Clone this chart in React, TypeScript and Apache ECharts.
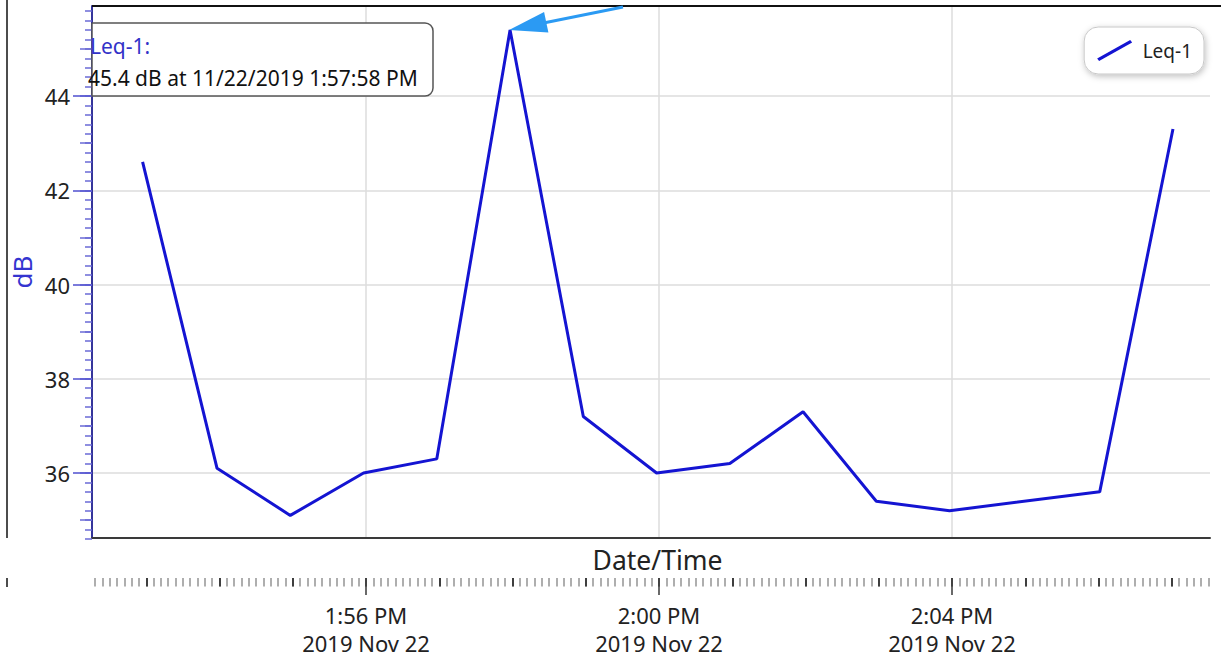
import React, { useEffect, useRef } from 'react';
import * as echarts from 'echarts';

// ---- data ----
const TIMES = [
  '13:52:57', '13:53:58', '13:54:58', '13:55:58', '13:56:58', '13:57:58', '13:58:58',
  '13:59:58', '14:00:58', '14:01:58', '14:02:58', '14:03:58', '14:06:01', '14:07:01',
];
const LEQ = [42.6, 36.1, 35.1, 36.0, 36.3, 45.4, 37.2, 36.0, 36.2, 37.3, 35.4, 35.2, 35.6, 43.3];
const SERIES_NAME = 'Leq-1';
const DATE_LABEL = '2019 Nov 22';
const Y_LABEL_TICKS = [36, 38, 40, 42, 44];
const X_LABEL_TICKS = ['13:56', '14:00', '14:04'];
const TOOLTIP_TITLE = 'Leq-1:';
const TOOLTIP_TEXT = '45.4 dB at 11/22/2019 1:57:58 PM';

const FONT = '"Noto Sans", "Open Sans", sans-serif';

const toMin = (s: string) => {
  const p = s.split(':').map(Number);
  return p[0] * 60 + p[1] + (p[2] || 0) / 60;
};

// pixel scale (layout only)
const PLOT = { left: 92, right: 1210, top: 6, bottom: 538 };
const X_PX0 = 366; const X_V0 = toMin(X_LABEL_TICKS[0]); const X_PPU = 73.25;
const Y_PX0 = 473; const Y_V0 = Y_LABEL_TICKS[0]; const Y_PPU = 47.125;
const xPx = (v: number) => X_PX0 + (v - X_V0) * X_PPU;
const xVal = (px: number) => X_V0 + (px - X_PX0) / X_PPU;
const yPx = (v: number) => Y_PX0 - (v - Y_V0) * Y_PPU;
const yVal = (px: number) => Y_V0 + (Y_PX0 - px) / Y_PPU;

const fmtTime = (v: number) => {
  const tot = Math.round(v);
  let h = Math.floor(tot / 60);
  const m = tot % 60;
  const ap = h >= 12 ? 'PM' : 'AM';
  h = h % 12; if (h === 0) h = 12;
  return `${h}:${m < 10 ? '0' + m : m} ${ap}`;
};

const hiddenAxis = (gi: number) => ({ type: 'value', gridIndex: gi, show: false, min: 0, max: 1 });

export default function App() {
  const ref = useRef<HTMLDivElement>(null);
  useEffect(() => {
    if (!ref.current) return;
    const chart = echarts.init(ref.current, undefined, { renderer: 'svg' });

    const yMajMin = Y_LABEL_TICKS[0];
    const yMajMax = Y_LABEL_TICKS[Y_LABEL_TICKS.length - 1];
    const xMajMin = toMin(X_LABEL_TICKS[0]);
    const xMajMax = toMin(X_LABEL_TICKS[X_LABEL_TICKS.length - 1]);
    const rulerTop = 570; const rulerH = 8;

    const yGrid = (lo: number, hi: number) => ({
      left: PLOT.left, width: PLOT.right - PLOT.left, top: yPx(hi), height: yPx(lo) - yPx(hi), outerBoundsMode: 'none',
    });
    const xGrid = (lo: number, hi: number, top: number, h: number) => ({
      left: xPx(lo), width: xPx(hi) - xPx(lo), top, height: h, outerBoundsMode: 'none',
    });

    const grids = [
      { left: PLOT.left, width: PLOT.right - PLOT.left, top: PLOT.top, height: PLOT.bottom - PLOT.top, outerBoundsMode: 'none' },
      yGrid(34.6, 45.8),
      yGrid(35, 45),
      yGrid(yMajMin, yMajMax),
      xGrid(xMajMin, xMajMax, PLOT.top, PLOT.bottom - PLOT.top),
      xGrid(832.3, 847.5, rulerTop, rulerH),
      xGrid(833, 847, rulerTop, rulerH),
      xGrid(xMajMin, xMajMax, rulerTop, rulerH),
    ];

    const xAxes: any[] = [
      {
        type: 'value', gridIndex: 0, min: xVal(PLOT.left), max: xVal(PLOT.right),
        axisLine: { show: true, onZero: false, lineStyle: { color: '#3a3a3a', width: 2 } },
        axisTick: { show: false }, axisLabel: { show: false }, splitLine: { show: false },
        name: 'Date/Time', nameLocation: 'middle', nameGap: 8,
        nameTextStyle: { fontSize: 26.5, color: '#222', fontFamily: FONT, padding: [0, 0, 0, 13] },
      },
      hiddenAxis(1), hiddenAxis(2), hiddenAxis(3),
      {
        type: 'value', gridIndex: 4, min: xMajMin, max: xMajMax, interval: 4,
        axisLine: { show: false }, axisTick: { show: false }, axisLabel: { show: false },
        splitLine: { show: true, lineStyle: { color: '#dddddd', width: 1.5 } },
      },
      {
        type: 'value', gridIndex: 5, min: 832.3, max: 847.5, interval: 0.1,
        axisLine: { show: false }, axisLabel: { show: false }, splitLine: { show: false },
        axisTick: { show: true, length: 8.5, lineStyle: { color: '#9a9a9a', width: 1.6 } },
      },
      {
        type: 'value', gridIndex: 6, min: 833, max: 847, interval: 1,
        axisLine: { show: false }, axisLabel: { show: false }, splitLine: { show: false },
        axisTick: { show: true, length: 8.5, lineStyle: { color: '#222', width: 1.6 } },
      },
      {
        type: 'value', gridIndex: 7, min: xMajMin, max: xMajMax, interval: 4,
        axisLine: { show: false }, splitLine: { show: false },
        axisTick: { show: true, length: 17, lineStyle: { color: '#444', width: 1.6 } },
        axisLabel: {
          show: true, margin: 23, fontSize: 22, lineHeight: 28, color: '#222', fontFamily: FONT,
          formatter: (v: number) => `${fmtTime(v)}\n${DATE_LABEL}`,
        },
      },
    ];

    const yAxes: any[] = [
      {
        type: 'value', gridIndex: 0, min: yVal(PLOT.bottom), max: yVal(PLOT.top),
        axisLine: { show: true, onZero: false, lineStyle: { color: '#34349a', width: 2 } },
        axisTick: { show: false }, axisLabel: { show: false }, splitLine: { show: false },
        name: 'dB', nameLocation: 'middle', nameGap: 57,
        nameTextStyle: { fontSize: 26, color: '#3434d0', fontFamily: FONT },
      },
      {
        type: 'value', gridIndex: 1, min: 34.6, max: 45.8, interval: 0.2,
        axisLine: { show: false }, axisLabel: { show: false }, splitLine: { show: false },
        axisTick: { show: true, length: 7, lineStyle: { color: '#6a6ad6', width: 1.5 } },
      },
      {
        type: 'value', gridIndex: 2, min: 35, max: 45, interval: 1,
        axisLine: { show: false }, axisLabel: { show: false }, splitLine: { show: false },
        axisTick: { show: true, length: 12, lineStyle: { color: '#6a6ad6', width: 1.5 } },
      },
      {
        type: 'value', gridIndex: 3, min: yMajMin, max: yMajMax, interval: 2,
        axisLine: { show: false },
        axisTick: { show: true, length: 19, lineStyle: { color: '#5a5ad2', width: 1.6 } },
        axisLabel: { show: true, margin: 22, fontSize: 22, color: '#222', fontFamily: FONT },
        splitLine: { show: true, lineStyle: { color: '#dddddd', width: 1.5 } },
      },
      hiddenAxis(4), hiddenAxis(5), hiddenAxis(6), hiddenAxis(7),
    ];

    const data = TIMES.map((t, i) => [toMin(t), LEQ[i]]);
    const peakIdx = LEQ.indexOf(Math.max(...LEQ));
    const tip = [xPx(toMin(TIMES[peakIdx])) - 1, yPx(LEQ[peakIdx])];
    const dir = [0.9786, -0.206];
    const perp = [0.206, 0.9786];
    const headLen = 38; const headHalf = 10.5;
    const base = [tip[0] + dir[0] * headLen, tip[1] + dir[1] * headLen];
    const arrowColor = '#2b9af3';

    chart.setOption({
      animation: false,
      backgroundColor: '#ffffff',
      grid: grids,
      xAxis: xAxes,
      yAxis: yAxes,
      legend: {
        show: true, data: [SERIES_NAME], right: 17, top: 27,
        padding: [13, 12, 13, 13], itemWidth: 36, itemHeight: 21,
        icon: 'path://M0,19 L34,0 L36,2.6 L2,21.6 Z',
        itemStyle: { color: '#1414d2' },
        textStyle: { fontSize: 19, color: '#222', fontFamily: FONT, padding: [0, 0, 0, 5] },
        backgroundColor: '#ffffff', borderColor: '#c8c8c8', borderWidth: 1, borderRadius: 14,
        shadowBlur: 6, shadowColor: 'rgba(0,0,0,0.25)', shadowOffsetX: 1, shadowOffsetY: 2,
      },
      series: [
        {
          name: SERIES_NAME, type: 'line', xAxisIndex: 0, yAxisIndex: 0, data,
          showSymbol: false, symbol: 'none', color: '#1414d2',
          lineStyle: { color: '#1414d2', width: 3 }, z: 3,
        },
      ],
      graphic: [
        { type: 'line', shape: { x1: 7, y1: 0, x2: 7, y2: PLOT.bottom }, style: { stroke: '#111', lineWidth: 1.5 } },
        { type: 'line', shape: { x1: 7, y1: 578, x2: 7, y2: 587 }, style: { stroke: '#111', lineWidth: 1.5 } },
        { type: 'line', shape: { x1: PLOT.left, y1: PLOT.top, x2: 1221, y2: PLOT.top }, style: { stroke: '#111', lineWidth: 2 }, z: 5 },
        {
          type: 'rect', z: 6,
          shape: { x: PLOT.left, y: 23, width: 341, height: 73, r: [0, 8, 8, 0] },
          style: { fill: '#ffffff', stroke: '#555', lineWidth: 1.5 },
        },
        {
          type: 'text', z: 7, x: 90, y: 46,
          style: { text: TOOLTIP_TITLE, fill: '#3232c8', font: `21px ${FONT}`, verticalAlign: 'middle' },
        },
        {
          type: 'text', z: 7, x: 88, y: 78,
          style: { text: TOOLTIP_TEXT, fill: '#111', font: `21px ${FONT}`, verticalAlign: 'middle' },
        },
        {
          type: 'line', z: 8,
          shape: { x1: base[0] - 4, y1: base[1] + 1, x2: 623, y2: PLOT.top + 1 },
          style: { stroke: arrowColor, lineWidth: 3 },
        },
        {
          type: 'polygon', z: 8,
          shape: {
            points: [
              tip,
              [base[0] + perp[0] * headHalf, base[1] + perp[1] * headHalf],
              [base[0] - perp[0] * headHalf, base[1] - perp[1] * headHalf],
            ],
          },
          style: { fill: arrowColor },
        },
      ],
    });
    return () => chart.dispose();
  }, []);
  return <div ref={ref} style={{ position: 'fixed', left: 0, top: 0, width: 1221, height: 660 }} />;
}
